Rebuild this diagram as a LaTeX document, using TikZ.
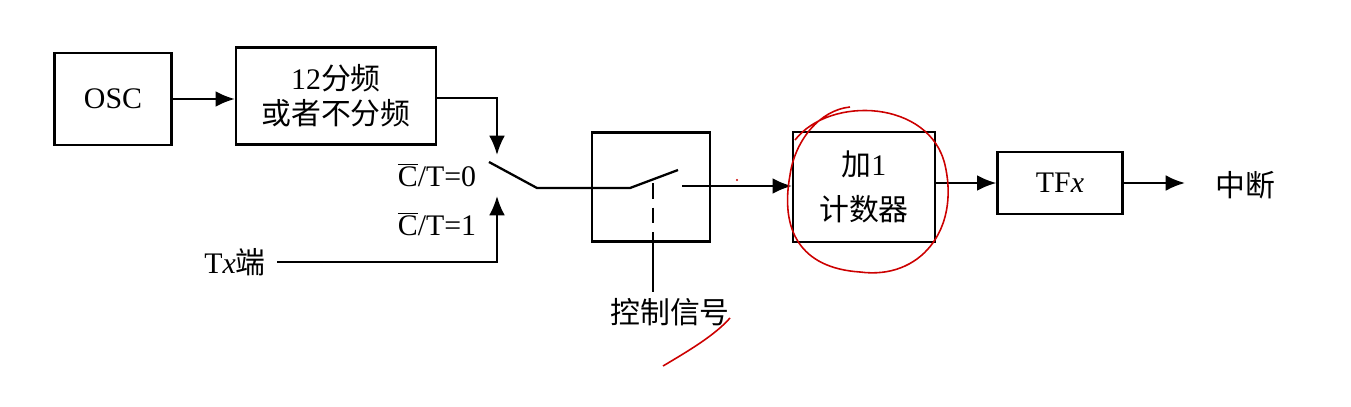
\documentclass[tikz,border=0pt]{standalone}
\usepackage{fontspec}
\setmainfont{Liberation Serif}
\newfontfamily\cjk{Noto Sans CJK SC}
\usetikzlibrary{arrows.meta}
\begin{document}
\begin{tikzpicture}[x=0.02cm,y=-0.02cm,thick,font=\fontsize{17}{20}\selectfont]
		\tikzset{block/.style = {draw, line width=1.3pt, inner sep=0pt}}
		\tikzset{flow/.style = {draw, line width=1.3pt, -{Latex[length=11pt,width=9pt]}}}
		\tikzset{wire/.style = {draw, line width=1.3pt}}
		\useasboundingbox (0,0) rectangle (1351,406);
		
		% blocks
		\node[block,minimum width=2.34cm,minimum height=1.84cm] (osc) at (113,99) {OSC};
		\node[block,minimum width=4cm,minimum height=1.94cm,align=center] (div) at (336,96) {12{\cjk 分频}\\{\cjk 或者不分频}};
		\node[block,minimum width=2.36cm,minimum height=2.18cm] (gate) at (651,187) {};
		\node[block,minimum width=2.84cm,minimum height=2.2cm,align=center] (cnt) at (864,187) {{\cjk 加}1\\[6pt]{\cjk 计数器}};
		\node[block,minimum width=2.5cm,minimum height=1.24cm] (tf) at (1060,183) {TF\textit{x}};
		\node (irq) at (1245,185) {\cjk 中断};
		\node (tx) at (235,262) {T\textit{x}{\cjk 端}};
		\node (ct0) at (437,175) {$\overline{\mbox{C}}$/T=0};
		\node (ct1) at (437,224) {$\overline{\mbox{C}}$/T=1};
		\node (ctl) at (670,312) {\cjk 控制信号};
		
		% contacts
		\coordinate (up) at (497,155);
		\coordinate (dn) at (497,196);
		\coordinate (pivot) at (537,188);
		\coordinate (hinge) at (630,188);
		\coordinate (out) at (682,186);
		\coordinate (irqin) at (1185,183);
		
		% connectors
		\draw[flow] (osc) -- (div.west |- osc);
		\draw[flow] (div.east |- 0,98) -| (up);
		\draw[flow] (tx.east) ++(5,0) -| (dn);
		\draw[wire] (489,162) -- (pivot) -- (hinge) -- (678,170);
		\draw[wire,dashed,dash pattern=on 9pt off 5pt] (653,183) -- (gate.south -| 653,0);
		\draw[wire] (gate.south -| 653,0) -- (ctl.north -| 653,0);
		\draw[flow] (out) -- (cnt.west |- out);
		\draw[flow] (cnt.east |- tf) -- (tf);
		\draw[flow] (tf) -- (irqin);
		
		% hand marks
		\draw[red!80!black,line width=0.9pt] (795,140) .. controls (830,95) and (930,100) .. (945,165) .. controls (960,230) and (920,280) .. (860,272) .. controls (800,268) and (780,230) .. (790,175) .. controls (795,140) and (820,110) .. (850,107);
		\draw[red!80!black,line width=0.9pt] (663,366) .. controls (690,350) and (715,335) .. (730,318);
		\fill[red!80!black] (737,180) circle (1.2);
\end{tikzpicture}
\end{document}
